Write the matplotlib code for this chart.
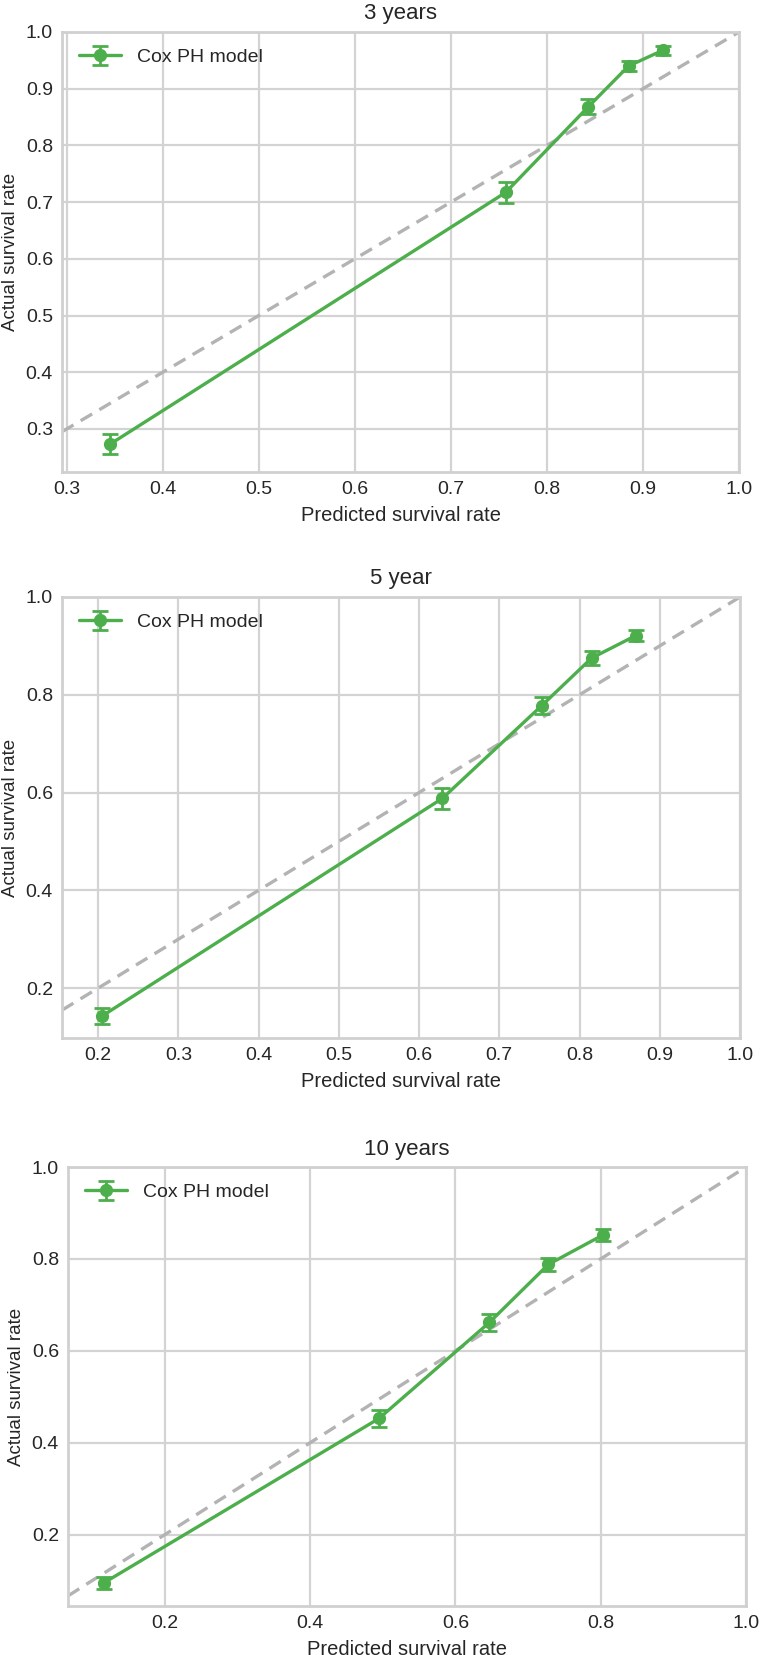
import numpy as np
import matplotlib
matplotlib.use('Agg')
import matplotlib.pyplot as plt

# calibration data
titles = ['3 years', '5 year', '10 years']

pred_3y = [0.345, 0.757, 0.843, 0.885, 0.921]
actual_3y = [0.273, 0.717, 0.868, 0.940, 0.968]
err_3y = [0.018, 0.018, 0.013, 0.008, 0.008]

pred_5y = [0.205, 0.629, 0.753, 0.815, 0.870]
actual_5y = [0.143, 0.588, 0.778, 0.875, 0.921]
err_5y = [0.017, 0.022, 0.017, 0.014, 0.011]

pred_10y = [0.116, 0.495, 0.647, 0.728, 0.803]
actual_10y = [0.095, 0.453, 0.662, 0.788, 0.852]
err_10y = [0.012, 0.019, 0.018, 0.015, 0.013]

x_limits = [(0.295, 1.0), (0.155, 1.0), (0.067, 1.0)]
y_limits = [(0.224, 1.0), (0.098, 1.0), (0.045, 1.0)]
x_ticks = [np.arange(0.3, 1.01, 0.1), np.arange(0.2, 1.01, 0.1), np.arange(0.2, 1.01, 0.2)]
y_ticks = [np.arange(0.3, 1.01, 0.1), np.arange(0.2, 1.01, 0.2), np.arange(0.2, 1.01, 0.2)]

plt.style.use('seaborn-v0_8-whitegrid')
plt.rcParams['font.family'] = ['Liberation Sans', 'DejaVu Sans']

W, H = 762, 1655
fig = plt.figure(figsize=(W / 100, H / 100), dpi=100)

# axes boxes in pixels: left, right, top, bottom
boxes = [(62, 739, 32, 472), (62, 740, 597, 1038), (68, 746, 1167, 1606)]

series = [(pred_3y, actual_3y, err_3y), (pred_5y, actual_5y, err_5y), (pred_10y, actual_10y, err_10y)]
green = '#4caf4c'
text_c = '#262626'

for i, (l, r, t, b) in enumerate(boxes):
    ax = fig.add_axes([l / W, (H - b) / H, (r - l) / W, (b - t) / H])
    x, y, e = series[i]
    lo = x_limits[i][0]
    ax.plot([lo, 1.0], [lo, 1.0], linestyle='--', color='#b3b3b3', lw=2.4, dashes=(4, 2.5), zorder=2)
    ax.errorbar(x, y, yerr=e, color=green, marker='o', markersize=8.5, lw=2.4,
                capsize=5.5, capthick=2.0, elinewidth=2.0, label='Cox PH model', zorder=3)
    ax.set_xlim(*x_limits[i])
    ax.set_ylim(*y_limits[i])
    ax.set_xticks(x_ticks[i])
    ax.set_yticks(y_ticks[i])
    ax.set_xticklabels(['%.1f' % v for v in x_ticks[i]])
    ax.set_yticklabels(['%.1f' % v for v in y_ticks[i]])
    ax.tick_params(labelsize=14, colors=text_c, pad=6.5)
    ax.set_title(titles[i], fontsize=16, color=text_c, pad=9)
    ax.set_xlabel('Predicted survival rate', fontsize=14.5, color=text_c, labelpad=6)
    ax.set_ylabel('Actual survival rate', fontsize=13.5, color=text_c)
    # put the y label ~43 px left of the spine, like the reference
    ax.yaxis.set_label_coords(-43 / (r - l), 0.5)
    ax.grid(True, color='#d3d3d3', lw=1.6)
    for s in ax.spines.values():
        s.set_color('#d0d0d0')
        s.set_linewidth(2.0)
    ax.legend(loc='upper left', fontsize=14, frameon=False, handlelength=2.2,
              handletextpad=0.8, borderaxespad=0.45)

fig.savefig('out.png', dpi=100)
